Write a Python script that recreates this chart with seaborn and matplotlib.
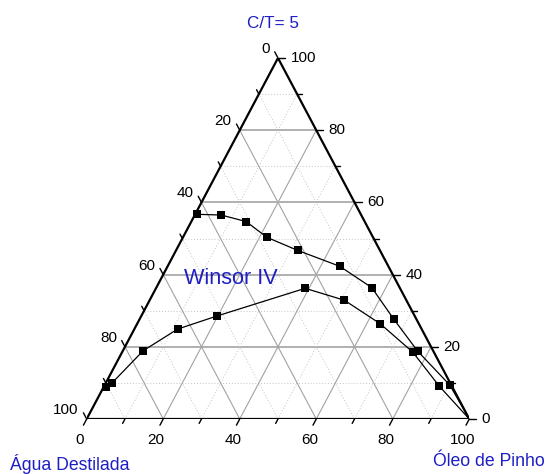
import matplotlib
matplotlib.use('Agg')
import matplotlib.pyplot as plt
import numpy as np
import pandas as pd
import seaborn as sns

# composicao em % (Oleo de Pinho, C/T); agua = 100 - oleo - ct
oleo_sup = [0.5, 6.9, 14.3, 22.0, 31.8, 45.0, 56.3, 66.5, 77.1, 90.2, 100.0]
ct_sup = [56.7, 56.5, 54.7, 50.3, 46.7, 42.3, 36.4, 27.6, 18.8, 9.4, 0.0]

oleo_inf = [0.5, 1.6, 5.3, 11.3, 19.7, 39.0, 50.9, 63.5, 76.0, 87.6, 100.0]
ct_inf = [9.0, 9.9, 18.9, 24.9, 28.5, 36.2, 32.9, 26.4, 18.5, 9.1, 0.0]

ticks_maiores = [0, 20, 40, 60, 80, 100]
ticks_menores = [10, 30, 50, 70, 90]

AZUL = '#1e1ec4'
W, H = 548, 474
X0, Y0, LARG, ALT = 86.7, 419, 382.6, 361   # triangulo em pixels
sx, sy = LARG / 100, ALT / 100


def tern(oleo, ct):
    oleo = np.asarray(oleo, dtype=float)
    ct = np.asarray(ct, dtype=float)
    return oleo + ct / 2, ct


def montar_dados():
    linhas = []
    for nome, oleo, ct in [('sup', oleo_sup, ct_sup), ('inf', oleo_inf, ct_inf)]:
        x, y = tern(oleo, ct)
        for i in range(len(oleo)):
            linhas.append({'curva': nome, 'ordem': i, 'oleo': oleo[i], 'ct': ct[i],
                           'agua': 100 - oleo[i] - ct[i], 'x': x[i], 'y': y[i]})
    return pd.DataFrame(linhas)


def seg(ax, p, q, **kw):
    xa, ya = tern(*p)
    xb, yb = tern(*q)
    ax.plot([xa, xb], [ya, yb], **kw)


def desenhar_grade(ax):
    pontilhado = dict(color='#c4c4c4', lw=0.7, ls=(0, (1, 2)), zorder=1)
    horiz = dict(color='#b0b0b0', lw=1.4, zorder=1)
    incl = dict(color='#a2a2a2', lw=0.8, zorder=1)
    for v in range(10, 100, 10):
        maior = v % 20 == 0
        seg(ax, (0, v), (100 - v, v), **(horiz if maior else pontilhado))
        seg(ax, (v, 0), (v, 100 - v), **(incl if maior else pontilhado))
        seg(ax, (100 - v, 0), (0, 100 - v), **(incl if maior else pontilhado))
    borda = dict(color='black', lw=1.6, zorder=3, solid_capstyle='round')
    seg(ax, (0, 0), (100, 0), **borda)
    seg(ax, (100, 0), (0, 100), **borda)
    seg(ax, (0, 100), (0, 0), **borda)


def desenhar_ticks(ax):
    n = np.hypot(50 * sx, 100 * sy)
    ux, uy = 50 * sx / n, 100 * sy / n
    kw = dict(color='black', lw=1.0, zorder=3, clip_on=False)
    for v in ticks_maiores + ticks_menores:
        L = 7 if v in ticks_maiores else 5
        # eixo inferior (oleo)
        x, y = tern(v, 0)
        ax.plot([x, x - ux * L / sx], [y, y - uy * L / sy], **kw)
        # eixo direito (C/T)
        x, y = tern(100 - v, v)
        ax.plot([x, x + L / sx], [y, y], **kw)
        # eixo esquerdo (agua)
        x, y = tern(0, 100 - v)
        ax.plot([x, x - ux * L / sx], [y, y + uy * L / sy], **kw)
    pt = 0.72
    fs = 11
    for v in ticks_maiores:
        x, y = tern(v, 0)
        ax.annotate(str(v), (x, y), xytext=(-7 * pt, -21 * pt), textcoords='offset points',
                    ha='center', va='center', fontsize=fs, color='black',
                    annotation_clip=False)
        x, y = tern(100 - v, v)
        ax.annotate(str(v), (x, y), xytext=(12.5 * pt, 0), textcoords='offset points',
                    ha='left', va='center', fontsize=fs, color='black',
                    annotation_clip=False)
        x, y = tern(0, 100 - v)
        ax.annotate(str(v), (x, y), xytext=(-8 * pt, 9 * pt), textcoords='offset points',
                    ha='right', va='center', fontsize=fs, color='black',
                    annotation_clip=False)


def gerar_plotagem(df):
    sns.set_theme(style='white')
    plt.rcParams['font.family'] = ['Liberation Sans', 'DejaVu Sans']
    plt.rcParams['text.color'] = 'black'
    fig = plt.figure(figsize=(W / 100, H / 100), dpi=100)
    ax = fig.add_axes([X0 / W, (H - Y0) / H, LARG / W, ALT / H])
    ax.set_xlim(0, 100)
    ax.set_ylim(0, 100)
    ax.axis('off')

    desenhar_grade(ax)
    desenhar_ticks(ax)

    for nome in ['sup', 'inf']:
        d = df[df['curva'] == nome]
        sns.lineplot(data=d, x='x', y='y', sort=False, estimator=None,
                     color='black', lw=0.9, ax=ax, zorder=4)
        sns.scatterplot(data=d.iloc[:-1], x='x', y='y', marker='s', s=32,
                        color='black', edgecolor='black', linewidth=0,
                        ax=ax, zorder=5, clip_on=False)

    xt, yt = (230.5 - X0) / sx, (Y0 - 278) / sy
    ax.text(xt, yt, 'Winsor IV', color=AZUL, fontsize=15.6, ha='center', va='center')

    fig.text(273 / W, 1 - 23 / H, 'C/T= 5', color=AZUL, fontsize=12.3,
             ha='center', va='center')
    fig.text(70 / W, 1 - 464 / H, 'Água Destilada', color=AZUL, fontsize=12.7,
             ha='center', va='center')
    fig.text(489 / W, 1 - 462 / H, 'Óleo de Pinho', color=AZUL, fontsize=12.7,
             ha='center', va='center')
    return fig


if __name__ == '__main__':
    df = montar_dados()
    fig = gerar_plotagem(df)
    fig.savefig('out.png', dpi=100, facecolor='white')
